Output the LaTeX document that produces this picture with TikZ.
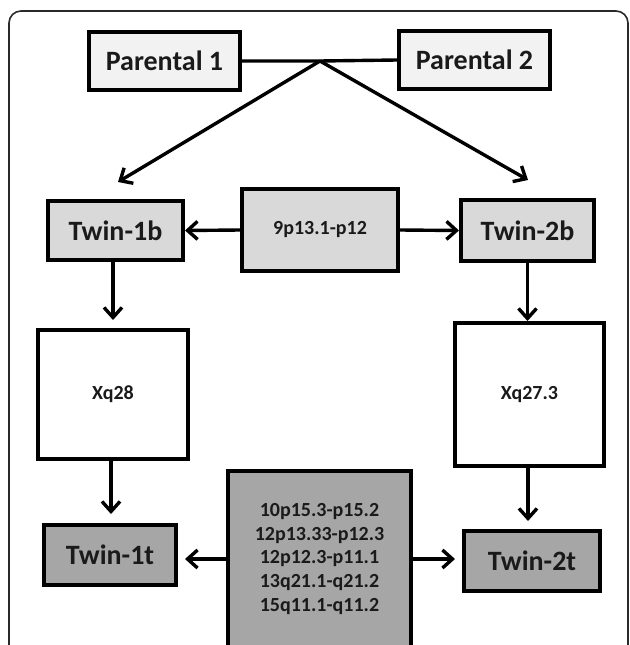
\documentclass[tikz,border=0pt]{standalone}
\usepackage{fontspec}
\setmainfont{Carlito}
\usetikzlibrary{arrows.meta}
\definecolor{lightfill}{HTML}{F2F2F2}
\definecolor{midfill}{HTML}{D9D9D9}
\definecolor{darkfill}{HTML}{A6A6A6}
\definecolor{txt}{HTML}{1A1A1A}
\definecolor{framecol}{HTML}{2A2A2A}
\tikzset{
  boxbase/.style={draw=black, line width=4pt, inner sep=0pt, text=txt, font=\bfseries},
  bigtext/.style={boxbase, font=\fontsize{28}{30}\selectfont\bfseries},
  smalltext/.style={boxbase, font=\fontsize{20}{23.7}\selectfont\bfseries, align=center},
  conn/.style={line width=3.4pt, draw=black},
  arr/.style={conn, -{Straight Barb[length=10pt,width=18pt]}},
}
\begin{document}
\begin{tikzpicture}[x=1pt,y=-1pt]
\useasboundingbox (0,0) rectangle (629,645);
\clip (0,0) rectangle (629,645);
% outer frame
\draw[framecol, line width=1.6pt, rounded corners=12pt] (9,700) -- (9,11) -- (628,11) -- (628,700);

\node[bigtext, fill=lightfill, minimum width=151pt, minimum height=58pt] (p1) at (164.5,61) {Parental 1};
\node[bigtext, fill=lightfill, minimum width=151pt, minimum height=58pt] (p2) at (474.5,60) {Parental 2};

\node[bigtext, fill=midfill, minimum width=135pt, minimum height=59pt] (t1b) at (115.5,230.5) {Twin-1b};
\node[smalltext, fill=midfill, minimum width=156pt, minimum height=82pt] (nine) at (320,230) {9p13.1-p12};
\node[bigtext, fill=midfill, minimum width=133pt, minimum height=61pt] (t2b) at (527.5,230.5) {Twin-2b};

\node[smalltext, fill=white, minimum width=150pt, minimum height=129pt] (x28) at (113,394.5) {Xq28};
\node[smalltext, fill=white, minimum width=149pt, minimum height=143pt] (x27) at (529.5,394.5) {Xq27.3};

\node[bigtext, fill=darkfill, minimum width=132pt, minimum height=60pt] (t1t) at (110,555) {Twin-1t};
\node[bigtext, fill=darkfill, minimum width=136pt, minimum height=60pt] (t2t) at (532,561) {Twin-2t};
\node[smalltext, fill=darkfill, minimum width=183pt, minimum height=176pt] (big) at (319.5,559)
  {10p15.3-p15.2\\12p13.33-p12.3\\12p12.3-p11.1\\13q21.1-q21.2\\15q11.1-q11.2};

% parental connectors
\coordinate (J) at (320,61);
\coordinate (a1) at (118,182);
\coordinate (a2) at (528,180);
\draw[conn] (p1.east) -- (J) -- (p2.west);
\draw[arr] (J) -- (a1);
\draw[arr] (J) -- (a2);

% 9p box to twins
\draw[arr] (nine.west) -- (t1b.east);
\draw[arr] (nine.east) -- (t2b.west);

% twin b to X boxes
\draw[arr] (t1b.south -| x28.north) -- ([yshift=8pt]x28.north);
\draw[arr] (t2b.south) -- (t2b.south |- x27.north);

% X boxes to twin t
\draw[arr] (x28.south -| 111,0) -- ([yshift=9pt]t1t.north -| 111,0);
\draw[arr] (x27.south -| 528,0) -- ([yshift=8pt]t2t.north -| 528,0);

% big box to twin t
\draw[arr, shorten >=7pt] (big.west) -- (big.west -| t1t.east);
\draw[arr, shorten >=7pt] (big.east) -- (big.east -| t2t.west);
\end{tikzpicture}
\end{document}
